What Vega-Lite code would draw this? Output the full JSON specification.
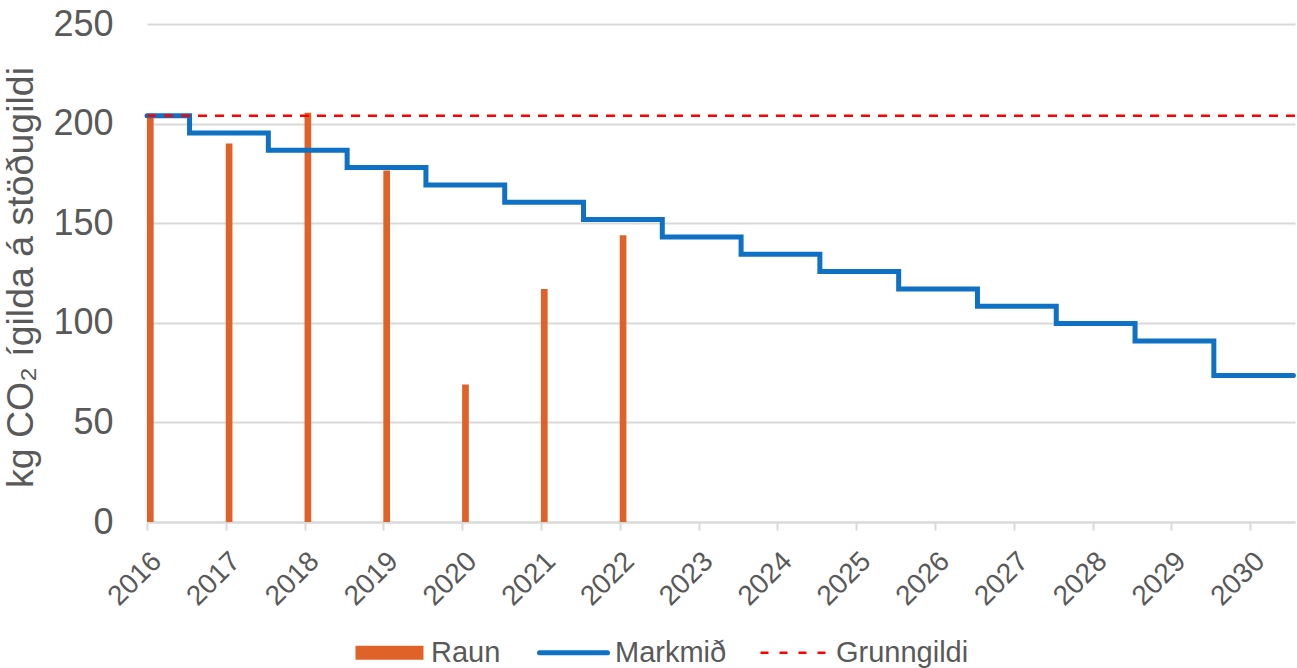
{
  "$schema": "https://vega.github.io/schema/vega-lite/v6.json",
  "width": 1148,
  "height": 498,
  "autosize": {"type": "none"},
  "padding": {"left": 147, "top": 24, "right": 2, "bottom": 146},
  "background": "white",
  "config": {
    "view": {"stroke": null},
    "font": "Liberation Sans",
    "axis": {"labelColor": "#595959", "titleColor": "#595959", "labelFont": "Liberation Sans", "titleFont": "Liberation Sans"},
    "legend": {"labelFont": "Liberation Sans"}
  },
  "datasets": {
    "raun": [
      {"year": 2016, "value": 205},
      {"year": 2017, "value": 190},
      {"year": 2018, "value": 205.5},
      {"year": 2019, "value": 176.5},
      {"year": 2020, "value": 69},
      {"year": 2021, "value": 117},
      {"year": 2022, "value": 144}
    ],
    "markmid": [
      {"year": 2016, "value": 204},
      {"year": 2016.54, "value": 195.3},
      {"year": 2017.54, "value": 186.6},
      {"year": 2018.54, "value": 177.9},
      {"year": 2019.54, "value": 169.2},
      {"year": 2020.54, "value": 160.5},
      {"year": 2021.54, "value": 151.8},
      {"year": 2022.54, "value": 143.1},
      {"year": 2023.54, "value": 134.4},
      {"year": 2024.54, "value": 125.7},
      {"year": 2025.54, "value": 117},
      {"year": 2026.54, "value": 108.3},
      {"year": 2027.54, "value": 99.6},
      {"year": 2028.54, "value": 90.9},
      {"year": 2029.54, "value": 73.5},
      {"year": 2030.55, "value": 73.5}
    ],
    "grunn": [
      {"value": 204}
    ]
  },
  "encoding": {
    "x": {
      "field": "year",
      "type": "quantitative",
      "scale": {"domain": [2016, 2030.57], "nice": false, "zero": false, "padding": 0},
      "axis": {
        "title": null,
        "values": [2016, 2017, 2018, 2019, 2020, 2021, 2022, 2023, 2024, 2025, 2026, 2027, 2028, 2029, 2030],
        "format": "d",
        "labelAngle": -45,
        "labelAlign": "right",
        "labelBaseline": "top",
        "labelFontSize": 28,
        "labelPadding": 17,
        "labelDx": -3,
        "labelFlush": false,
        "labelOverlap": false,
        "grid": false,
        "domainColor": "#D9D9D9",
        "domainWidth": 2,
        "tickColor": "#D9D9D9",
        "tickWidth": 2,
        "tickSize": 8
      }
    },
    "y": {
      "field": "value",
      "type": "quantitative",
      "scale": {"domain": [0, 250], "nice": false},
      "axis": {
        "title": "kg CO₂ ígilda á stöðugildi",
        "titleFontSize": 37.5,
        "titleFontWeight": "normal",
        "titlePadding": 12,
        "titleY": 253,
        "values": [0, 50, 100, 150, 200, 250],
        "labelFontSize": 36,
        "labelPadding": 34,
        "ticks": false,
        "tickSize": 0,
        "domain": false,
        "grid": true,
        "gridColor": "#D9D9D9",
        "gridWidth": 2
      }
    }
  },
  "layer": [
    {
      "data": {"name": "raun"},
      "mark": {"type": "bar", "width": 6.7, "xOffset": 3.3},
      "encoding": {
        "color": {
          "datum": "Raun",
          "scale": {"domain": ["Raun", "Markmið", "Grunngildi"], "range": ["#DF6329", "#0E71C4", "#FF0000"]},
          "legend": {
            "title": null,
            "orient": "none",
            "legendX": 228,
            "legendY": 614,
            "direction": "horizontal",
            "padding": 0,
            "labelFontSize": 29,
            "labelColor": "#595959",
            "labelOffset": 27,
            "columnPadding": 28,
            "symbolSize": 4624,
            "symbolType": "stroke",
            "symbolStrokeWidth": 5,
            "encode": {
              "symbols": {
                "update": {
                  "shape": {"signal": "datum.value === 'Raun' ? 'M-1,-0.206H1V0.206H-1Z' : 'stroke'"},
                  "size": {"value": 4624},
                  "fill": {"signal": "datum.value === 'Raun' ? '#DF6329' : 'transparent'"},
                  "stroke": {"signal": "datum.value === 'Raun' ? 'transparent' : (datum.value === 'Markmið' ? '#0E71C4' : '#FF0000')"},
                  "strokeWidth": {"signal": "datum.value === 'Markmið' ? 5 : (datum.value === 'Grunngildi' ? 2.5 : 0)"},
                  "strokeDash": {"signal": "datum.value === 'Grunngildi' ? [8, 11] : [1, 0]"},
                  "strokeCap": {"signal": "datum.value === 'Markmið' ? 'round' : 'butt'"},
                  "opacity": {"value": 1}
                }
              }
            }
          }
        }
      }
    },
    {
      "data": {"name": "markmid"},
      "mark": {"type": "line", "interpolate": "step-after", "strokeWidth": 5, "strokeCap": "round"},
      "encoding": {
        "color": {"datum": "Markmið"}
      }
    },
    {
      "data": {"name": "grunn"},
      "mark": {"type": "rule", "strokeWidth": 2.5, "strokeDash": [9, 8]},
      "encoding": {
        "x": null,
        "color": {"datum": "Grunngildi"}
      }
    }
  ]
}
